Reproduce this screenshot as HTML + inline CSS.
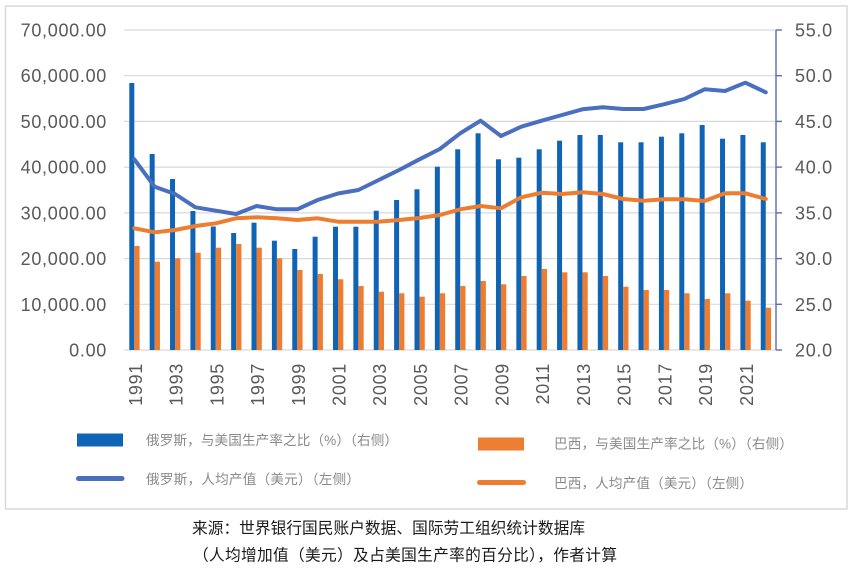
<!DOCTYPE html>
<html><head><meta charset="utf-8"><style>
html,body{margin:0;padding:0;background:#fff;}
svg{display:block;}
.ax{font-family:"Liberation Sans","DejaVu Sans",sans-serif;font-size:18px;fill:#595959;letter-spacing:0.7px;}
.lg{font-family:"Liberation Sans","Noto Sans CJK SC",sans-serif;font-size:13.6px;fill:#8a8a8a;}
.ft{font-family:"Liberation Sans","Noto Sans CJK SC",sans-serif;font-size:15.7px;fill:#1a1a1a;}
</style></head><body>
<svg width="853" height="570" viewBox="0 0 853 570" xmlns="http://www.w3.org/2000/svg">
<rect x="0" y="0" width="853" height="570" fill="#fff"/>
<rect x="5.5" y="6" width="841.5" height="503" fill="#fff" stroke="#d9d9d9" stroke-width="1.5"/>
<g stroke="#d9d9d9" stroke-width="1.2">
<line x1="124" y1="30" x2="776" y2="30"/>
<line x1="124" y1="75.7" x2="776" y2="75.7"/>
<line x1="124" y1="121.4" x2="776" y2="121.4"/>
<line x1="124" y1="167.1" x2="776" y2="167.1"/>
<line x1="124" y1="212.9" x2="776" y2="212.9"/>
<line x1="124" y1="258.6" x2="776" y2="258.6"/>
<line x1="124" y1="304.3" x2="776" y2="304.3"/>
<line x1="124" y1="350" x2="776" y2="350"/>
</g>
<g class="ax" text-anchor="end">
<text x="107" y="36.5">70,000.00</text>
<text x="107" y="82.2">60,000.00</text>
<text x="107" y="127.9">50,000.00</text>
<text x="107" y="173.6">40,000.00</text>
<text x="107" y="219.4">30,000.00</text>
<text x="107" y="265.1">20,000.00</text>
<text x="107" y="310.8">10,000.00</text>
<text x="107" y="356.5">0.00</text>
</g>
<g class="ax">
<text x="795" y="36.5">55.0</text>
<text x="795" y="82.2">50.0</text>
<text x="795" y="127.9">45.0</text>
<text x="795" y="173.6">40.0</text>
<text x="795" y="219.4">35.0</text>
<text x="795" y="265.1">30.0</text>
<text x="795" y="310.8">25.0</text>
<text x="795" y="356.5">20.0</text>
</g>
<g stroke="#5a6db5" stroke-width="1.4">
<line x1="776" y1="30" x2="776" y2="350"/>
<line x1="776" y1="30" x2="782" y2="30"/>
<line x1="776" y1="75.7" x2="782" y2="75.7"/>
<line x1="776" y1="121.4" x2="782" y2="121.4"/>
<line x1="776" y1="167.1" x2="782" y2="167.1"/>
<line x1="776" y1="212.9" x2="782" y2="212.9"/>
<line x1="776" y1="258.6" x2="782" y2="258.6"/>
<line x1="776" y1="304.3" x2="782" y2="304.3"/>
<line x1="776" y1="350" x2="782" y2="350"/>
</g>
<g fill="#0f64b6">
<rect x="129.3" y="83" width="5" height="267"/>
<rect x="149.67" y="154" width="5" height="196"/>
<rect x="170.04" y="179" width="5" height="171"/>
<rect x="190.41" y="211" width="5" height="139"/>
<rect x="210.78" y="226.5" width="5" height="123.5"/>
<rect x="231.15" y="233" width="5" height="117"/>
<rect x="251.52" y="222.7" width="5" height="127.3"/>
<rect x="271.89" y="240.7" width="5" height="109.3"/>
<rect x="292.26" y="249" width="5" height="101"/>
<rect x="312.63" y="236.7" width="5" height="113.3"/>
<rect x="333.0" y="226.7" width="5" height="123.3"/>
<rect x="353.37" y="226.7" width="5" height="123.3"/>
<rect x="373.74" y="210.7" width="5" height="139.3"/>
<rect x="394.11" y="200" width="5" height="150"/>
<rect x="414.48" y="189.3" width="5" height="160.7"/>
<rect x="434.85" y="166.7" width="5" height="183.3"/>
<rect x="455.22" y="149.3" width="5" height="200.7"/>
<rect x="475.59" y="133.3" width="5" height="216.7"/>
<rect x="495.96" y="159.3" width="5" height="190.7"/>
<rect x="516.33" y="157.7" width="5" height="192.3"/>
<rect x="536.7" y="149.3" width="5" height="200.7"/>
<rect x="557.07" y="140.7" width="5" height="209.3"/>
<rect x="577.44" y="135" width="5" height="215"/>
<rect x="597.81" y="135" width="5" height="215"/>
<rect x="618.18" y="142.3" width="5" height="207.7"/>
<rect x="638.55" y="142.3" width="5" height="207.7"/>
<rect x="658.92" y="136.7" width="5" height="213.3"/>
<rect x="679.29" y="133.3" width="5" height="216.7"/>
<rect x="699.66" y="125" width="5" height="225"/>
<rect x="720.03" y="138.7" width="5" height="211.3"/>
<rect x="740.4" y="135" width="5" height="215"/>
<rect x="760.77" y="142.3" width="5" height="207.7"/>
</g>
<g fill="#ed7d31">
<rect x="134.3" y="246" width="5.3" height="104"/>
<rect x="154.67" y="261.7" width="5.3" height="88.3"/>
<rect x="175.04" y="258.3" width="5.3" height="91.7"/>
<rect x="195.41" y="252.7" width="5.3" height="97.3"/>
<rect x="215.78" y="247.7" width="5.3" height="102.3"/>
<rect x="236.15" y="244" width="5.3" height="106"/>
<rect x="256.52" y="247.7" width="5.3" height="102.3"/>
<rect x="276.89" y="258.3" width="5.3" height="91.7"/>
<rect x="297.26" y="270" width="5.3" height="80"/>
<rect x="317.63" y="274" width="5.3" height="76"/>
<rect x="338.0" y="279.3" width="5.3" height="70.7"/>
<rect x="358.37" y="286" width="5.3" height="64"/>
<rect x="378.74" y="291.7" width="5.3" height="58.3"/>
<rect x="399.11" y="293.3" width="5.3" height="56.7"/>
<rect x="419.48" y="296.7" width="5.3" height="53.3"/>
<rect x="439.85" y="293.3" width="5.3" height="56.7"/>
<rect x="460.22" y="286" width="5.3" height="64"/>
<rect x="480.59" y="281" width="5.3" height="69"/>
<rect x="500.96" y="284.3" width="5.3" height="65.7"/>
<rect x="521.33" y="276" width="5.3" height="74"/>
<rect x="541.7" y="269" width="5.3" height="81"/>
<rect x="562.07" y="272.3" width="5.3" height="77.7"/>
<rect x="582.44" y="272.3" width="5.3" height="77.7"/>
<rect x="602.81" y="276" width="5.3" height="74"/>
<rect x="623.18" y="286.7" width="5.3" height="63.3"/>
<rect x="643.55" y="290" width="5.3" height="60"/>
<rect x="663.92" y="290" width="5.3" height="60"/>
<rect x="684.29" y="293.3" width="5.3" height="56.7"/>
<rect x="704.66" y="299" width="5.3" height="51"/>
<rect x="725.03" y="293.3" width="5.3" height="56.7"/>
<rect x="745.4" y="300.7" width="5.3" height="49.3"/>
<rect x="765.77" y="307.7" width="5.3" height="42.3"/>
</g>
<polyline fill="none" stroke="#ed7d31" stroke-width="4" stroke-linejoin="round" stroke-linecap="round" points="134.3,228.3 154.67,232.3 175.04,230 195.41,226 215.78,223.3 236.15,218.3 256.52,217.3 276.89,218.3 297.26,220 317.63,218.3 338.0,221.7 358.37,221.7 378.74,221.7 399.11,220 419.48,218 439.85,215 460.22,209.3 480.59,206 500.96,208.3 521.33,197.3 541.7,192.7 562.07,194 582.44,192.3 602.81,194 623.18,199 643.55,200.7 663.92,199.3 684.29,199.3 704.66,201 725.03,193.3 745.4,193.3 765.77,199"/>
<polyline fill="none" stroke="#4a6fbf" stroke-width="4" stroke-linejoin="round" stroke-linecap="round" points="134.3,159.3 154.67,186.7 175.04,194 195.41,207.3 215.78,210.7 236.15,214 256.52,206 276.89,209.3 297.26,209.3 317.63,200 338.0,193.5 358.37,190 378.74,180 399.11,170 419.48,159.3 439.85,149 460.22,133.3 480.59,120.7 500.96,136 521.33,126.7 541.7,120.7 562.07,115 582.44,109.3 602.81,107.3 623.18,109 643.55,109 663.92,104.3 684.29,99 704.66,89.3 725.03,91 745.4,82.7 765.77,92.3"/>
<g class="ax" text-anchor="end">
<text transform="translate(141.8,363) rotate(-90)">1991</text>
<text transform="translate(182.5,363) rotate(-90)">1993</text>
<text transform="translate(223.3,363) rotate(-90)">1995</text>
<text transform="translate(264,363) rotate(-90)">1997</text>
<text transform="translate(304.8,363) rotate(-90)">1999</text>
<text transform="translate(345.5,363) rotate(-90)">2001</text>
<text transform="translate(386.2,363) rotate(-90)">2003</text>
<text transform="translate(427,363) rotate(-90)">2005</text>
<text transform="translate(467.7,363) rotate(-90)">2007</text>
<text transform="translate(508.5,363) rotate(-90)">2009</text>
<text transform="translate(549.2,363) rotate(-90)">2011</text>
<text transform="translate(589.9,363) rotate(-90)">2013</text>
<text transform="translate(630.7,363) rotate(-90)">2015</text>
<text transform="translate(671.4,363) rotate(-90)">2017</text>
<text transform="translate(712.2,363) rotate(-90)">2019</text>
<text transform="translate(752.9,363) rotate(-90)">2021</text>
</g>
<rect x="77" y="433.5" width="46" height="13" fill="#0f64b6"/>
<text class="lg" x="146" y="445" textLength="252" lengthAdjust="spacing">俄罗斯，与美国生产率之比（%）（右侧）</text>
<line x1="78.5" y1="478.5" x2="122" y2="478.5" stroke="#4a6fbf" stroke-width="5" stroke-linecap="round"/>
<text class="lg" x="146" y="484" textLength="214" lengthAdjust="spacing">俄罗斯，人均产值（美元）（左侧）</text>
<rect x="478" y="437.5" width="46" height="13" fill="#ed7d31"/>
<text class="lg" x="554" y="448.5" textLength="239" lengthAdjust="spacing">巴西，与美国生产率之比（%）（右侧）</text>
<line x1="479.5" y1="482.5" x2="523.5" y2="482.5" stroke="#ed7d31" stroke-width="5" stroke-linecap="round"/>
<text class="lg" x="554" y="488" textLength="199" lengthAdjust="spacing">巴西，人均产值（美元）（左侧）</text>
<text class="ft" x="192" y="533.5" textLength="393" lengthAdjust="spacing">来源：世界银行国民账户数据、国际劳工组织统计数据库</text>
<text class="ft" x="193" y="560.5" textLength="424" lengthAdjust="spacing">（人均增加值（美元）及占美国生产率的百分比），作者计算</text>
</svg>
</body></html>
